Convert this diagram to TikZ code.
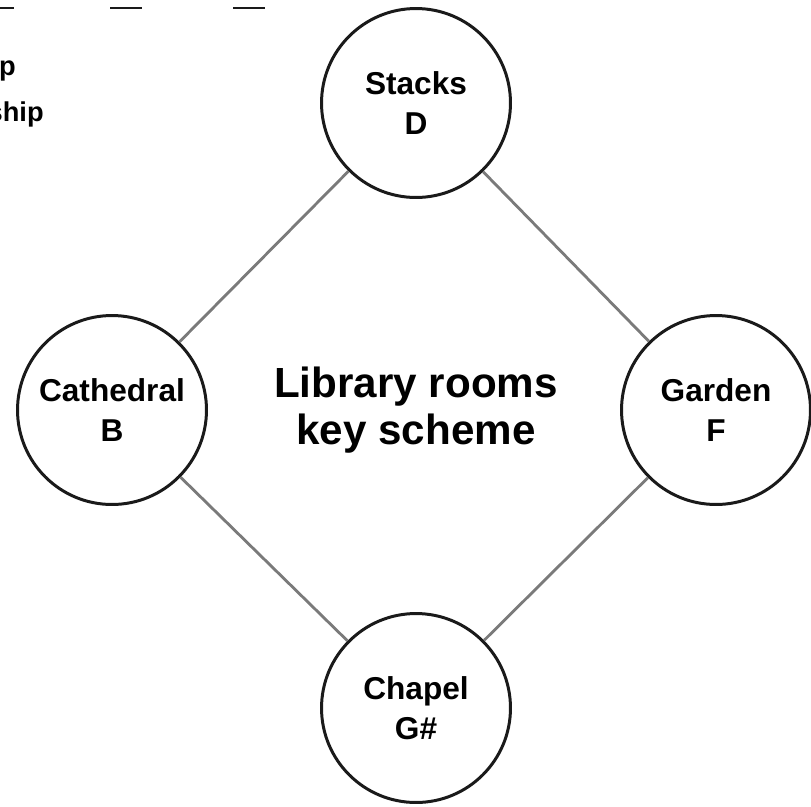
\documentclass[tikz,border=0pt]{standalone}
\usepackage{fontspec}
\setmainfont{Liberation Sans}
\usepackage{xcolor}
\usepackage{tikz}
\usetikzlibrary{positioning}
\definecolor{rmedge}{HTML}{1A1A1A}
\definecolor{rmlink}{HTML}{7A7A7A}

\begin{document}
\begin{tikzpicture}[x=0.02cm,y=-0.02cm,
  room/.style={circle,draw=rmedge,line width=1.7pt,fill=white,align=center,minimum size=3.78cm,inner sep=0pt,
    font=\fontsize{18}{22.7}\selectfont\bfseries},
  link/.style={draw=rmlink,line width=1.6pt},
  legline/.style={draw=rmedge,line width=1.6pt},
  legtext/.style={anchor=base east,inner sep=0pt,font=\fontsize{15.5}{18}\selectfont\bfseries}]
  \useasboundingbox (0,0) rectangle (811,806);
  \clip (0,0) rectangle (811,806);
  % cut-off legend at the top left
  \draw[legline] (-20,8) -- (14,8);
  \draw[legline] (110,8) -- (142,8);
  \draw[legline] (233,8) -- (265,8);
  \node[legtext] (legA) at (16,75) {Group};
  \node[legtext] (legB) at (44,121) {Relationship};
  % rooms
  \node[room] (stacks) at (416,103) {Stacks\\D};
  \node[room] (cath)   at (112,410) {Cathedral\\B};
  \node[room] (garden) at (716,410) {Garden\\F};
  \node[room] (chapel) at (416,708) {Chapel\\G\#};
  \draw[link] (stacks) -- (cath);
  \draw[link] (stacks) -- (garden);
  \draw[link] (cath) -- (chapel);
  \draw[link] (garden) -- (chapel);
  \node[align=center,font=\fontsize{24}{26.6}\selectfont\bfseries] (title) at (416,410) {Library rooms\\key scheme};
\end{tikzpicture}
\end{document}
